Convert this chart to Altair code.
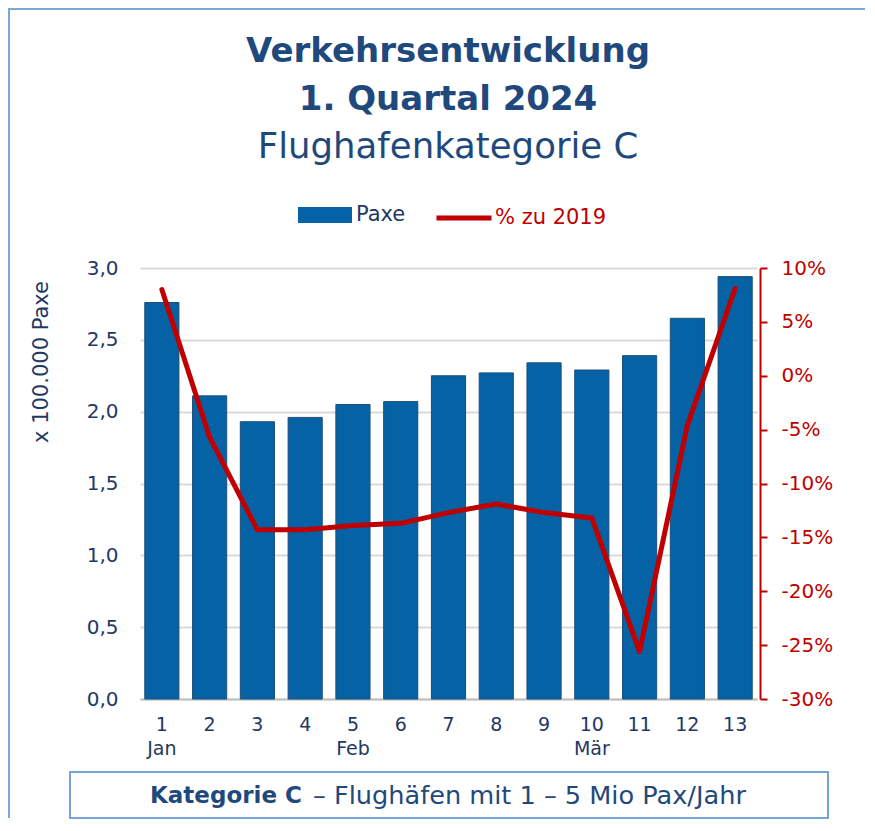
import altair as alt
import pandas as pd

# ---- data ----
weeks = list(range(1, 14))
paxe = [2.76, 2.11, 1.93, 1.96, 2.05, 2.07, 2.25, 2.27, 2.34, 2.29, 2.39, 2.65, 2.94]
pct_2019 = [8.0, -5.7, -14.3, -14.3, -13.9, -13.7, -12.7, -11.9, -12.7, -13.2, -25.6, -4.6, 8.1]
months = ["Jan", "", "", "", "Feb", "", "", "", "", "Mär", "", "", ""]
y_left_ticks = [0, 0.5, 1.0, 1.5, 2.0, 2.5, 3.0]
y_right_ticks = [-30, -25, -20, -15, -10, -5, 0, 5, 10]

title_lines = ["Verkehrsentwicklung", "1. Quartal 2024", "Flughafenkategorie C"]
legend_bar = "Paxe"
legend_line = "% zu 2019"
y_title = "x 100.000 Paxe"
footer_bold = "Kategorie C"
footer_rest = "– Flughäfen mit 1 – 5 Mio Pax/Jahr"

df = pd.DataFrame({
    "week": weeks,
    "paxe": paxe,
    "pct": pct_2019,
    "month": months,
    "s_bar": [legend_bar] * 13,
    "s_line": [legend_line] * 13,
})

FONT = "DejaVu Sans"
NAVY = "#1F3864"
TITLE_BLUE = "#1F497D"
BAR = "#0462A5"
RED = "#C00000"
FRAME = "#7FA7D3"

PAD_L, PAD_T, PAD_R, PAD_B = 132, 260, 110, 122
W, H = 617, 431

x_enc = alt.X(
    "week:O",
    scale=alt.Scale(paddingInner=0.285, paddingOuter=0.1),
    axis=alt.Axis(
        labelAngle=0, labelFontSize=19, labelColor=NAVY, labelFont=FONT,
        domain=True, domainColor="#BFBFBF", domainWidth=2,
        ticks=False, labelPadding=16, title=None,
    ),
)

bars = alt.Chart(df).mark_bar(stroke="#1F4E79", strokeWidth=1).encode(
    x=x_enc,
    y=alt.Y(
        "paxe:Q",
        scale=alt.Scale(domain=[0, 3], nice=False),
        axis=alt.Axis(
            values=y_left_ticks,
            labelExpr="replace(format(datum.value, '.1f'), '.', ',')",
            grid=True, gridColor="#D9D9D9", gridWidth=2,
            domain=False, ticks=False, tickSize=0, labelPadding=22,
            labelFontSize=20, labelColor=NAVY, labelFont=FONT, title=None,
        ),
    ),
    fill=alt.Fill(
        "s_bar:N",
        scale=alt.Scale(domain=[legend_bar], range=[BAR]),
        legend=alt.Legend(
            orient="none", legendX=158, legendY=-80, title=None, padding=0,
            symbolType="M-1,-0.3H1V0.3H-1Z", symbolSize=2916,
            symbolStrokeWidth=0, labelOffset=4,
            labelFontSize=21, labelColor=NAVY, labelFont=FONT,
        ),
    ),
)

line = alt.Chart(df).mark_line(strokeWidth=5, strokeCap="round", strokeJoin="round").encode(
    x=alt.X("week:O"),
    y=alt.Y(
        "pct:Q",
        scale=alt.Scale(domain=[-30, 10], nice=False),
        axis=alt.Axis(
            orient="right", values=y_right_ticks,
            labelExpr="datum.value + '%'",
            grid=False, domain=True, domainColor=RED, domainWidth=2,
            ticks=True, tickColor=RED, tickWidth=2, tickSize=7,
            labelColor=RED, labelFontSize=20, labelFont=FONT,
            labelPadding=14, offset=3, title=None,
        ),
    ),
    stroke=alt.Stroke(
        "s_line:N",
        scale=alt.Scale(domain=[legend_line], range=[RED]),
        legend=alt.Legend(
            orient="none", legendX=294, legendY=-80, title=None, padding=0,
            symbolType="stroke", symbolSize=3025, symbolStrokeWidth=5,
            labelOffset=1, labelFontSize=21, labelColor=RED, labelFont=FONT,
        ),
    ),
)

month_text = alt.Chart(df).transform_filter("datum.month != ''").mark_text(
    fontSize=19, color=NAVY, font=FONT, baseline="middle", align="center"
).encode(
    x=alt.X("week:O"),
    y=alt.value(481),
    text="month:N",
)


def deco_text(txt, x, y, **kw):
    return alt.Chart(pd.DataFrame({"t": [txt]})).mark_text(font=FONT, **kw).encode(
        x=alt.value(x), y=alt.value(y), text="t:N"
    )


def deco_band(x, x2, y, y2, color):
    return alt.Chart(pd.DataFrame({"t": [0]})).mark_rect(
        color=color, strokeWidth=0
    ).encode(x=alt.value(x), x2=alt.value(x2), y=alt.value(y), y2=alt.value(y2))


t1 = deco_text(title_lines[0], 308, -206, fontSize=34, fontWeight="bold", color=TITLE_BLUE, baseline="alphabetic")
t2 = deco_text(title_lines[1], 308, -158, fontSize=34, fontWeight="bold", color=TITLE_BLUE, baseline="alphabetic")
t3 = deco_text(title_lines[2], 308, -110, fontSize=35.5, color=TITLE_BLUE, baseline="alphabetic")

ytitle = deco_text(y_title, -98, 94, fontSize=21, color=NAVY, angle=270, baseline="middle")

frame_top = deco_band(-132, 725, -260, -258, FRAME)
frame_left = deco_band(-132, -130, -260, 550, FRAME)

box = alt.Chart(pd.DataFrame({"t": [0]})).mark_rect(
    filled=False, stroke="#4A89C8", strokeWidth=1.5
).encode(x=alt.value(-70), x2=alt.value(688), y=alt.value(504), y2=alt.value(550))

f1 = deco_text(footer_bold, 10, 528, fontSize=23, fontWeight="bold", color=TITLE_BLUE, align="left", baseline="middle")
f2 = deco_text(footer_rest, 173, 528, fontSize=25.6, color=TITLE_BLUE, align="left", baseline="middle")

chart = alt.layer(
    frame_top, frame_left, box, bars, line, month_text, t1, t2, t3, ytitle, f1, f2
).resolve_scale(
    y="independent", fill="independent", stroke="independent"
).properties(
    width=W, height=H,
    padding={"left": PAD_L, "top": PAD_T, "right": PAD_R, "bottom": PAD_B},
    autosize=alt.AutoSizeParams(type="none"),
).configure_view(strokeWidth=0)

chart.save("out.html", embed_options={"renderer": "svg", "actions": False})
